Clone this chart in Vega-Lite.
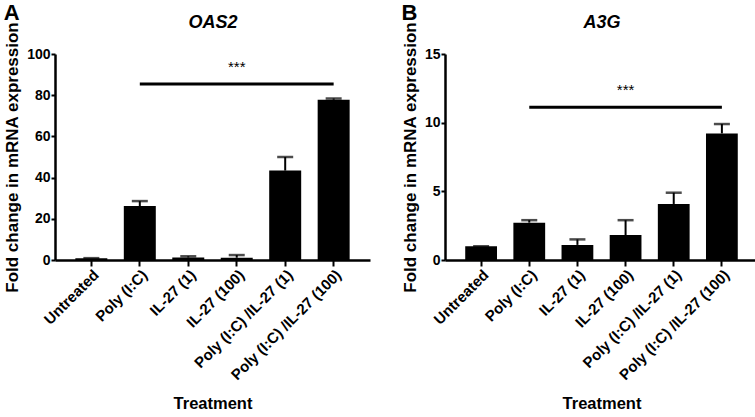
{
  "$schema": "https://vega.github.io/schema/vega-lite/v6.json",
  "background": "white",
  "padding": {"left": 3, "top": 2, "right": 0, "bottom": 0},
  "spacing": 75,
  "bounds": "flush",
  "config": {
    "view": {"stroke": null},
    "font": "Liberation Sans",
    "axis": {
      "grid": false,
      "domainColor": "black",
      "domainWidth": 2.5,
      "tickColor": "black",
      "tickWidth": 2,
      "tickSize": 4,
      "labelColor": "black",
      "labelFont": "Liberation Sans",
      "labelFontWeight": "bold",
      "labelFontSize": 14,
      "labelPadding": 1,
      "titleFont": "Liberation Sans",
      "titleFontWeight": "bold",
      "titleFontSize": 17,
      "titleColor": "black"
    },
    "title": {"font": "Liberation Sans", "color": "black", "fontWeight": "bold", "fontSize": 22}
  },
  "hconcat": [
    {
      "width": 315,
      "height": 206,
      "title": {"text": "A", "anchor": "start", "frame": "bounds", "offset": -12},
      "data": {"values": [
        {"t": "Untreated", "mean": 0.9, "upper": 0.9},
        {"t": "Poly (I:C)", "mean": 26.2, "upper": 28.6},
        {"t": "IL-27 (1)", "mean": 1.2, "upper": 1.8},
        {"t": "IL-27 (100)", "mean": 1.1, "upper": 2.4},
        {"t": "Poly (I:C) /IL-27 (1)", "mean": 43.4, "upper": 50.0},
        {"t": "Poly (I:C) /IL-27 (100)", "mean": 77.8, "upper": 78.4}
      ]},
      "resolve": {"axis": {"x": "independent"}},
      "layer": [
        {
          "mark": {"type": "bar", "color": "black"},
          "encoding": {
            "x": {"field": "t", "type": "nominal",
              "scale": {"domain": ["Untreated", "Poly (I:C)", "IL-27 (1)", "IL-27 (100)", "Poly (I:C) /IL-27 (1)", "Poly (I:C) /IL-27 (100)"], "paddingInner": 0.34, "paddingOuter": 0.42},
              "axis": {"title": "Treatment", "labelAngle": -45, "labelFontSize": 15, "tickSize": 6, "titlePadding": 13, "titleFontSize": 16.5}},
            "y": {"field": "mean", "type": "quantitative",
              "scale": {"domain": [0, 100], "nice": false},
              "axis": {"title": "Fold change in mRNA expression", "values": [0, 20, 40, 60, 80, 100], "titlePadding": 5}}
          }
        },
        {
          "mark": {"type": "rule", "color": "black", "strokeWidth": 2},
          "encoding": {
            "x": {"field": "t", "type": "nominal", "axis": null},
            "y": {"field": "mean", "type": "quantitative"},
            "y2": {"field": "upper"}
          }
        },
        {
          "mark": {"type": "tick", "orient": "horizontal", "color": "black", "thickness": 2.5, "size": 16},
          "encoding": {
            "x": {"field": "t", "type": "nominal", "axis": null},
            "y": {"field": "upper", "type": "quantitative"}
          }
        },
        {
          "data": {"values": [{"a": "Poly (I:C)", "b": "Poly (I:C) /IL-27 (100)", "y": 85.4}]},
          "mark": {"type": "rule", "color": "black", "strokeWidth": 3},
          "encoding": {
            "x": {"field": "a", "type": "nominal", "axis": null},
            "x2": {"field": "b"},
            "y": {"field": "y", "type": "quantitative"}
          }
        },
        {
          "data": {"values": [{"c": "IL-27 (100)", "y": 93.7, "s": "***"}]},
          "mark": {"type": "text", "color": "black", "fontSize": 15, "baseline": "middle", "align": "center"},
          "encoding": {
            "x": {"field": "c", "type": "nominal",
              "axis": {"orient": "top", "title": "OAS2", "labels": false, "ticks": false, "domain": false, "titleFontStyle": "italic", "titleFontSize": 18, "titlePadding": 23}},
            "y": {"field": "y", "type": "quantitative"},
            "text": {"field": "s"}
          }
        }
      ]
    },
    {
      "width": 313,
      "height": 206,
      "title": {"text": "B", "anchor": "start", "frame": "bounds", "offset": -12},
      "data": {"values": [
        {"t": "Untreated", "mean": 1.0, "upper": 1.0},
        {"t": "Poly (I:C)", "mean": 2.72, "upper": 2.9},
        {"t": "IL-27 (1)", "mean": 1.1, "upper": 1.5},
        {"t": "IL-27 (100)", "mean": 1.82, "upper": 2.9},
        {"t": "Poly (I:C) /IL-27 (1)", "mean": 4.08, "upper": 4.9},
        {"t": "Poly (I:C) /IL-27 (100)", "mean": 9.22, "upper": 9.9}
      ]},
      "resolve": {"axis": {"x": "independent"}},
      "layer": [
        {
          "mark": {"type": "bar", "color": "black"},
          "encoding": {
            "x": {"field": "t", "type": "nominal",
              "scale": {"domain": ["Untreated", "Poly (I:C)", "IL-27 (1)", "IL-27 (100)", "Poly (I:C) /IL-27 (1)", "Poly (I:C) /IL-27 (100)"], "paddingInner": 0.34, "paddingOuter": 0.42},
              "axis": {"title": "Treatment", "labelAngle": -45, "labelFontSize": 15, "tickSize": 6, "titlePadding": 13, "titleFontSize": 16.5}},
            "y": {"field": "mean", "type": "quantitative",
              "scale": {"domain": [0, 15], "nice": false},
              "axis": {"title": "Fold change in mRNA expression", "values": [0, 5, 10, 15], "titlePadding": 5}}
          }
        },
        {
          "mark": {"type": "rule", "color": "black", "strokeWidth": 2},
          "encoding": {
            "x": {"field": "t", "type": "nominal", "axis": null},
            "y": {"field": "mean", "type": "quantitative"},
            "y2": {"field": "upper"}
          }
        },
        {
          "mark": {"type": "tick", "orient": "horizontal", "color": "black", "thickness": 2.5, "size": 16},
          "encoding": {
            "x": {"field": "t", "type": "nominal", "axis": null},
            "y": {"field": "upper", "type": "quantitative"}
          }
        },
        {
          "data": {"values": [{"a": "Poly (I:C)", "b": "Poly (I:C) /IL-27 (100)", "y": 11.12}]},
          "mark": {"type": "rule", "color": "black", "strokeWidth": 3},
          "encoding": {
            "x": {"field": "a", "type": "nominal", "axis": null},
            "x2": {"field": "b"},
            "y": {"field": "y", "type": "quantitative"}
          }
        },
        {
          "data": {"values": [{"c": "IL-27 (100)", "y": 12.4, "s": "***"}]},
          "mark": {"type": "text", "color": "black", "fontSize": 15, "baseline": "middle", "align": "center"},
          "encoding": {
            "x": {"field": "c", "type": "nominal",
              "axis": {"orient": "top", "title": "A3G", "labels": false, "ticks": false, "domain": false, "titleFontStyle": "italic", "titleFontSize": 18, "titlePadding": 23}},
            "y": {"field": "y", "type": "quantitative"},
            "text": {"field": "s"}
          }
        }
      ]
    }
  ]
}
